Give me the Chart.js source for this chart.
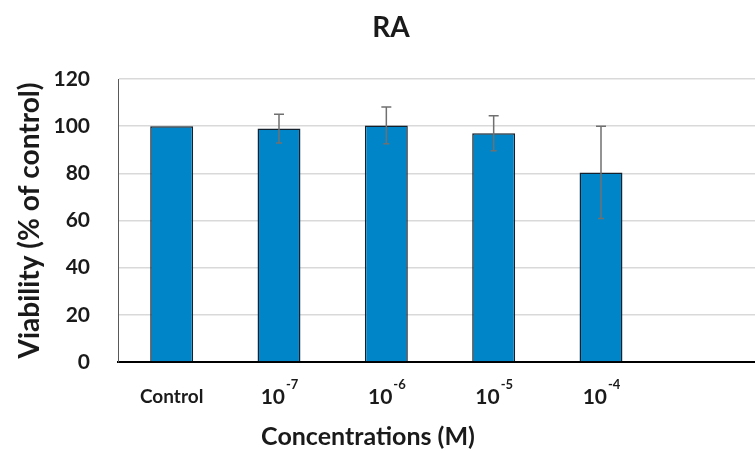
<!DOCTYPE html>
<html>
<head>
<meta charset="utf-8">
<script src="https://cdn.jsdelivr.net/npm/chart.js@4.4.1/dist/chart.umd.min.js"></script>
<style>
  html, body { margin: 0; padding: 0; background: #fff; overflow: hidden; }
  #wrap { width: 762px; height: 453px; }
</style>
</head>
<body>
<div id="wrap"><canvas id="chart"></canvas></div>
<script>
// data
const catBase = ['Control', '10', '10', '10', '10', ''];
const catExp = ['', '-7', '-6', '-5', '-4', ''];
const viability = [100, 99.0, 100.3, 97.0, 80.4, null];
const errors = [0, 6.1, 7.8, 7.4, 19.6, null];
const yTicks = [0, 20, 40, 60, 80, 100, 120];

const FONT = 'Lato, "Open Sans", sans-serif';
const TEXT = '#1a1a1a';

// error bars + superscript tick labels + titles drawn on the canvas
const extras = {
    id: 'extras',
    afterDatasetsDraw(chart) {
        const ctx = chart.ctx;
        const x = chart.scales.x, y = chart.scales.y;
        ctx.save();
        ctx.strokeStyle = '#707070';
        ctx.lineWidth = 1.5;
        viability.forEach((v, i) => {
            if (v == null || !errors[i]) return;
            const px = x.getPixelForValue(i);
            const top = y.getPixelForValue(v + errors[i]);
            const bot = y.getPixelForValue(v - errors[i]);
            ctx.beginPath();
            ctx.moveTo(px, top); ctx.lineTo(px, bot);
            ctx.moveTo(px - 5, top); ctx.lineTo(px + 5, top);
            ctx.moveTo(px - 3, bot); ctx.lineTo(px + 3, bot);
            ctx.stroke();
        });
        ctx.restore();
    },
    afterDraw(chart) {
        const ctx = chart.ctx;
        const x = chart.scales.x;
        ctx.save();
        ctx.fillStyle = TEXT;
        ctx.textBaseline = 'middle';
        // category labels
        catBase.forEach((b, i) => {
            if (!b) return;
            const px = x.getPixelForValue(i);
            const size = catExp[i] ? 21 : 19;
            ctx.font = 'bold ' + size + 'px ' + FONT;
            const wb = ctx.measureText(b).width;
            ctx.font = 'bold 13px ' + FONT;
            const we = catExp[i] ? ctx.measureText(catExp[i]).width : 0;
            const start = px - (wb + we) / 2;
            ctx.font = 'bold ' + size + 'px ' + FONT;
            ctx.textAlign = 'left';
            ctx.fillText(b, start, 397);
            if (catExp[i]) {
                ctx.font = 'bold 13px ' + FONT;
                ctx.fillText(catExp[i], start + wb + 1, 385);
            }
        });
        // titles
        ctx.textAlign = 'center';
        ctx.font = 'bold 25px ' + FONT;
        ctx.fillText('Concentrations (M)', 368, 437);
        ctx.font = 'bold 28px ' + FONT;
        ctx.fillText('RA', 391, 28);
        ctx.restore();
    }
};

new Chart(document.getElementById('chart'), {
    type: 'bar',
    data: {
        labels: catBase.map((b, i) => b + catExp[i]),
        datasets: [{
            data: viability,
            backgroundColor: '#0086c8',
            borderColor: '#14202c',
            borderWidth: 1.5,
            barPercentage: 0.4,
            categoryPercentage: 1
        }]
    },
    options: {
        responsive: true, maintainAspectRatio: false,
        animation: false,
        layout: { padding: { top: 79, left: 0, right: 0, bottom: 0 } },
        plugins: { legend: { display: false }, tooltip: { enabled: false } },
        scales: {
            x: {
                grid: { display: false },
                border: { color: '#000', width: 2 },
                ticks: { display: false },
                afterFit: s => { s.height = 91; }
            },
            y: {
                min: 0, max: 120,
                afterBuildTicks: s => { s.ticks = yTicks.map(v => ({ value: v })); },
                grid: { color: '#d9d9d9', lineWidth: 1.5, drawTicks: false },
                border: { color: '#595959', width: 1 },
                ticks: { font: { family: FONT, size: 21, weight: 'bold' }, color: TEXT, padding: 28 },
                title: {
                    display: true, text: 'Viability (% of control)',
                    font: { family: FONT, size: 28, weight: 'bold' }, color: TEXT,
                    padding: { top: 13, bottom: 0 }
                },
                afterFit: s => { s.width = 118; }
            }
        }
    },
    plugins: [extras]
});
</script>
</body>
</html>
